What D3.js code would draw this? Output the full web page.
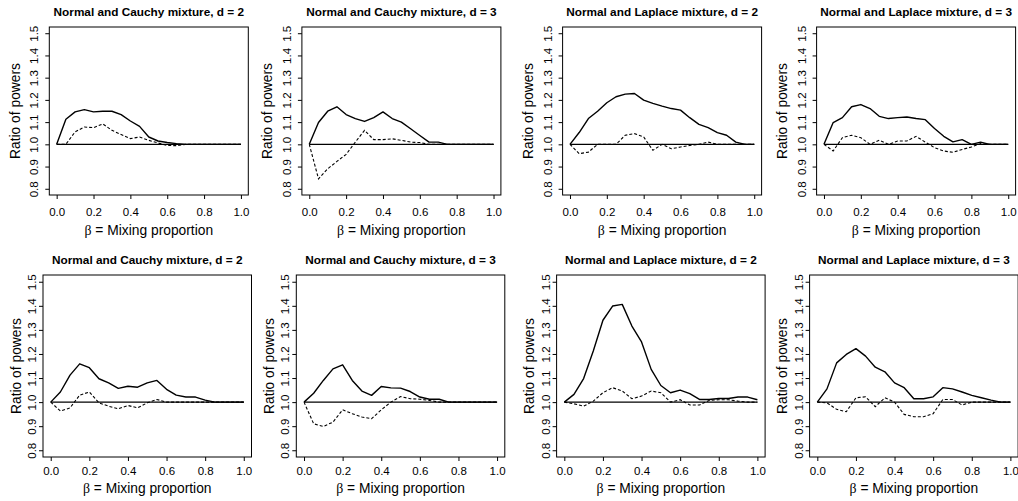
<!DOCTYPE html>
<html>
<head>
<meta charset="utf-8">
<script src="https://cdn.jsdelivr.net/npm/d3@7"></script>
<style>
  html, body { margin: 0; padding: 0; background: #fff; }
  svg { display: block; font-family: "Liberation Sans", Arial, Helvetica, sans-serif; }
</style>
</head>
<body>
<svg id="chart" width="1018" height="501"></svg>
<script>
// ---------------- data ----------------
const beta = [0.00,0.05,0.10,0.15,0.20,0.25,0.30,0.35,0.40,0.45,0.50,0.55,0.60,0.65,0.70,0.75,0.80,0.85,0.90,0.95,1.00];
const xTicks = [0.0,0.2,0.4,0.6,0.8,1.0];
const yTicks = [0.8,0.9,1.0,1.1,1.2,1.3,1.4,1.5];
const refValue = 1.0;
const titles = [
  "Normal and Cauchy mixture, d = 2",
  "Normal and Cauchy mixture, d = 3",
  "Normal and Laplace mixture, d = 2",
  "Normal and Laplace mixture, d = 3",
  "Normal and Cauchy mixture, d = 2",
  "Normal and Cauchy mixture, d = 3",
  "Normal and Laplace mixture, d = 2",
  "Normal and Laplace mixture, d = 3"
];
const xLabel = "Mixing proportion";
const yLabel = "Ratio of powers";

const p1Solid  = [1.000,1.113,1.146,1.156,1.146,1.149,1.149,1.134,1.105,1.081,1.033,1.015,1.008,1.003,1.000,1.000,1.000,1.000,1.000,1.000,1.000];
const p1Dashed = [1.000,1.000,1.056,1.078,1.075,1.092,1.063,1.044,1.026,1.033,1.018,1.006,0.995,0.994,1.000,1.000,1.000,1.000,1.000,1.000,1.000];
const p2Solid  = [1.000,1.098,1.149,1.169,1.134,1.116,1.103,1.120,1.146,1.116,1.100,1.070,1.040,1.010,1.010,1.000,1.000,1.000,1.000,1.000,1.000];
const p2Dashed = [1.000,0.845,0.890,0.923,0.955,1.010,1.063,1.021,1.021,1.025,1.018,1.010,1.008,1.000,1.000,1.000,1.000,1.000,1.000,1.000,1.000];
const p3Solid  = [1.000,1.053,1.116,1.149,1.187,1.214,1.226,1.229,1.199,1.184,1.172,1.161,1.154,1.120,1.090,1.075,1.053,1.041,1.010,1.000,1.000];
const p3Dashed = [1.000,0.958,0.965,1.000,1.000,1.000,1.041,1.048,1.033,0.973,1.000,0.980,0.988,0.995,1.000,1.010,1.000,1.000,1.000,1.000,1.000];
const p4Solid  = [1.000,1.098,1.120,1.169,1.179,1.161,1.126,1.116,1.120,1.123,1.116,1.111,1.071,1.036,1.011,1.021,1.000,1.010,1.000,1.000,1.000];
const p4Dashed = [1.000,0.970,1.030,1.041,1.030,1.000,1.018,1.000,1.015,1.015,1.036,1.010,0.985,0.970,0.964,0.977,0.988,1.003,1.000,1.000,1.000];
const p5Solid  = [1.000,1.042,1.112,1.159,1.143,1.097,1.080,1.057,1.066,1.062,1.080,1.090,1.053,1.029,1.021,1.021,1.008,1.000,1.000,1.000,1.000];
const p5Dashed = [1.000,0.963,0.976,1.029,1.042,0.997,0.983,0.972,0.986,0.976,0.997,1.011,1.000,1.000,1.000,1.000,1.000,1.000,1.000,1.000,1.000];
const p6Solid  = [1.000,1.037,1.090,1.138,1.155,1.090,1.046,1.028,1.065,1.059,1.058,1.044,1.021,1.012,1.012,1.000,1.000,1.000,1.000,1.000,1.000];
const p6Dashed = [1.000,0.910,0.899,0.917,0.968,0.952,0.938,0.931,0.968,1.000,1.023,1.014,1.012,1.007,1.000,1.000,1.000,1.000,1.000,1.000,1.000];
const p7Solid  = [1.000,1.032,1.098,1.212,1.340,1.399,1.406,1.316,1.250,1.136,1.069,1.039,1.050,1.035,1.011,1.011,1.015,1.015,1.021,1.021,1.010];
const p7Dashed = [1.000,0.993,0.983,1.004,1.039,1.060,1.046,1.014,1.025,1.046,1.039,1.000,1.010,0.988,0.988,1.007,1.010,1.010,1.004,1.000,1.000];
const p8Solid  = [1.000,1.055,1.163,1.198,1.222,1.191,1.145,1.126,1.080,1.060,1.014,1.014,1.022,1.060,1.055,1.042,1.028,1.018,1.008,1.000,1.000];
const p8Dashed = [1.000,0.997,0.970,0.960,1.018,1.022,0.981,1.018,1.000,0.949,0.939,0.939,0.952,1.011,1.011,0.988,1.000,1.000,1.000,1.000,1.000];

const solidSeries  = [p1Solid, p2Solid, p3Solid, p4Solid, p5Solid, p6Solid, p7Solid, p8Solid];
const dashedSeries = [p1Dashed, p2Dashed, p3Dashed, p4Dashed, p5Dashed, p6Dashed, p7Dashed, p8Dashed];

// ---------------- layout ----------------
const rowLayout = [
  { top: 27,  height: 168, width: 199,   lefts: [49.3, 301.9, 562.6, 816.6], titleY: 12,  xTickDy: 16.5, xLabDy: 35, yTickDx: 15, yLabDx: 34 },
  { top: 275, height: 182, width: 208.5, lefts: [43, 296.3, 556.6, 809.6],   titleY: 260, xTickDy: 13.5, xLabDy: 30.5, yTickDx: 11, yLabDx: 27 }
];

const svg = d3.select("#chart");
svg.append("rect").attr("width", 1018).attr("height", 501).attr("fill", "#fff");

const xDom = [0 - 0.04, 1 + 0.04];
const yDom = [0.8 - 0.028, 1.5 + 0.028];

titles.forEach((title, i) => {
  const row = rowLayout[Math.floor(i / 4)];
  const left = row.lefts[i % 4];
  const top = row.top, w = row.width, h = row.height;

  const x = d3.scaleLinear().domain(xDom).range([left, left + w]);
  const y = d3.scaleLinear().domain(yDom).range([top + h, top]);

  const g = svg.append("g");

  // Title
  g.append("text")
    .attr("x", left + w / 2).attr("y", row.titleY)
    .attr("text-anchor", "middle").attr("dominant-baseline", "central")
    .attr("font-size", 11.8).attr("font-weight", "bold")
    .text(title);

  // Box
  g.append("rect")
    .attr("x", left).attr("y", top).attr("width", w).attr("height", h)
    .attr("fill", "none").attr("stroke", "#000").attr("stroke-width", 1);

  // X axis ticks & labels
  const xAxis = d3.axisBottom(x).tickValues(xTicks).tickSize(4).tickFormat(d3.format(".1f"));
  const xg = g.append("g").attr("transform", `translate(0,${top + h})`).call(xAxis);
  xg.select(".domain").remove();
  xg.selectAll(".tick line").attr("stroke", "#000");
  xg.selectAll(".tick text")
    .attr("font-size", 11.5).attr("fill", "#000")
    .attr("font-family", "Liberation Sans, Arial, sans-serif")
    .attr("y", row.xTickDy).attr("dy", null)
    .attr("dominant-baseline", "central");

  // Y axis ticks & labels (rotated)
  const yAxis = d3.axisLeft(y).tickValues(yTicks).tickSize(4).tickFormat(d3.format(".1f"));
  const yg = g.append("g").attr("transform", `translate(${left},0)`).call(yAxis);
  yg.select(".domain").remove();
  yg.selectAll(".tick line").attr("stroke", "#000");
  yg.selectAll(".tick text")
    .attr("font-size", 11.5).attr("fill", "#000")
    .attr("font-family", "Liberation Sans, Arial, sans-serif")
    .attr("x", null).attr("dy", null)
    .attr("text-anchor", "middle").attr("dominant-baseline", "central")
    .attr("transform", `translate(${-row.yTickDx},0) rotate(-90)`);

  // Axis labels
  const xl = g.append("text")
    .attr("x", left + w / 2).attr("y", top + h + row.xLabDy)
    .attr("text-anchor", "middle").attr("dominant-baseline", "central")
    .attr("font-size", 13.8);
  xl.append("tspan").attr("font-family", "Liberation Serif, 'DejaVu Serif', serif").text("\u03B2");
  xl.append("tspan").text(" = " + xLabel);

  g.append("text")
    .attr("transform", `translate(${left - row.yLabDx},${top + h / 2}) rotate(-90)`)
    .attr("text-anchor", "middle").attr("dominant-baseline", "central")
    .attr("font-size", 13.8)
    .text(yLabel);

  // Reference line
  g.append("line")
    .attr("x1", x(0)).attr("x2", x(1)).attr("y1", y(refValue)).attr("y2", y(refValue))
    .attr("stroke", "#000").attr("stroke-width", 1.1);

  const line = d3.line().x((d, k) => x(beta[k])).y(d => y(d));

  g.append("path").datum(dashedSeries[i])
    .attr("d", line).attr("fill", "none")
    .attr("stroke", "#000").attr("stroke-width", 1.1)
    .attr("stroke-dasharray", "3,2");

  g.append("path").datum(solidSeries[i])
    .attr("d", line).attr("fill", "none")
    .attr("stroke", "#000").attr("stroke-width", 1.4)
    .attr("stroke-linejoin", "round");
});
</script>
</body>
</html>
